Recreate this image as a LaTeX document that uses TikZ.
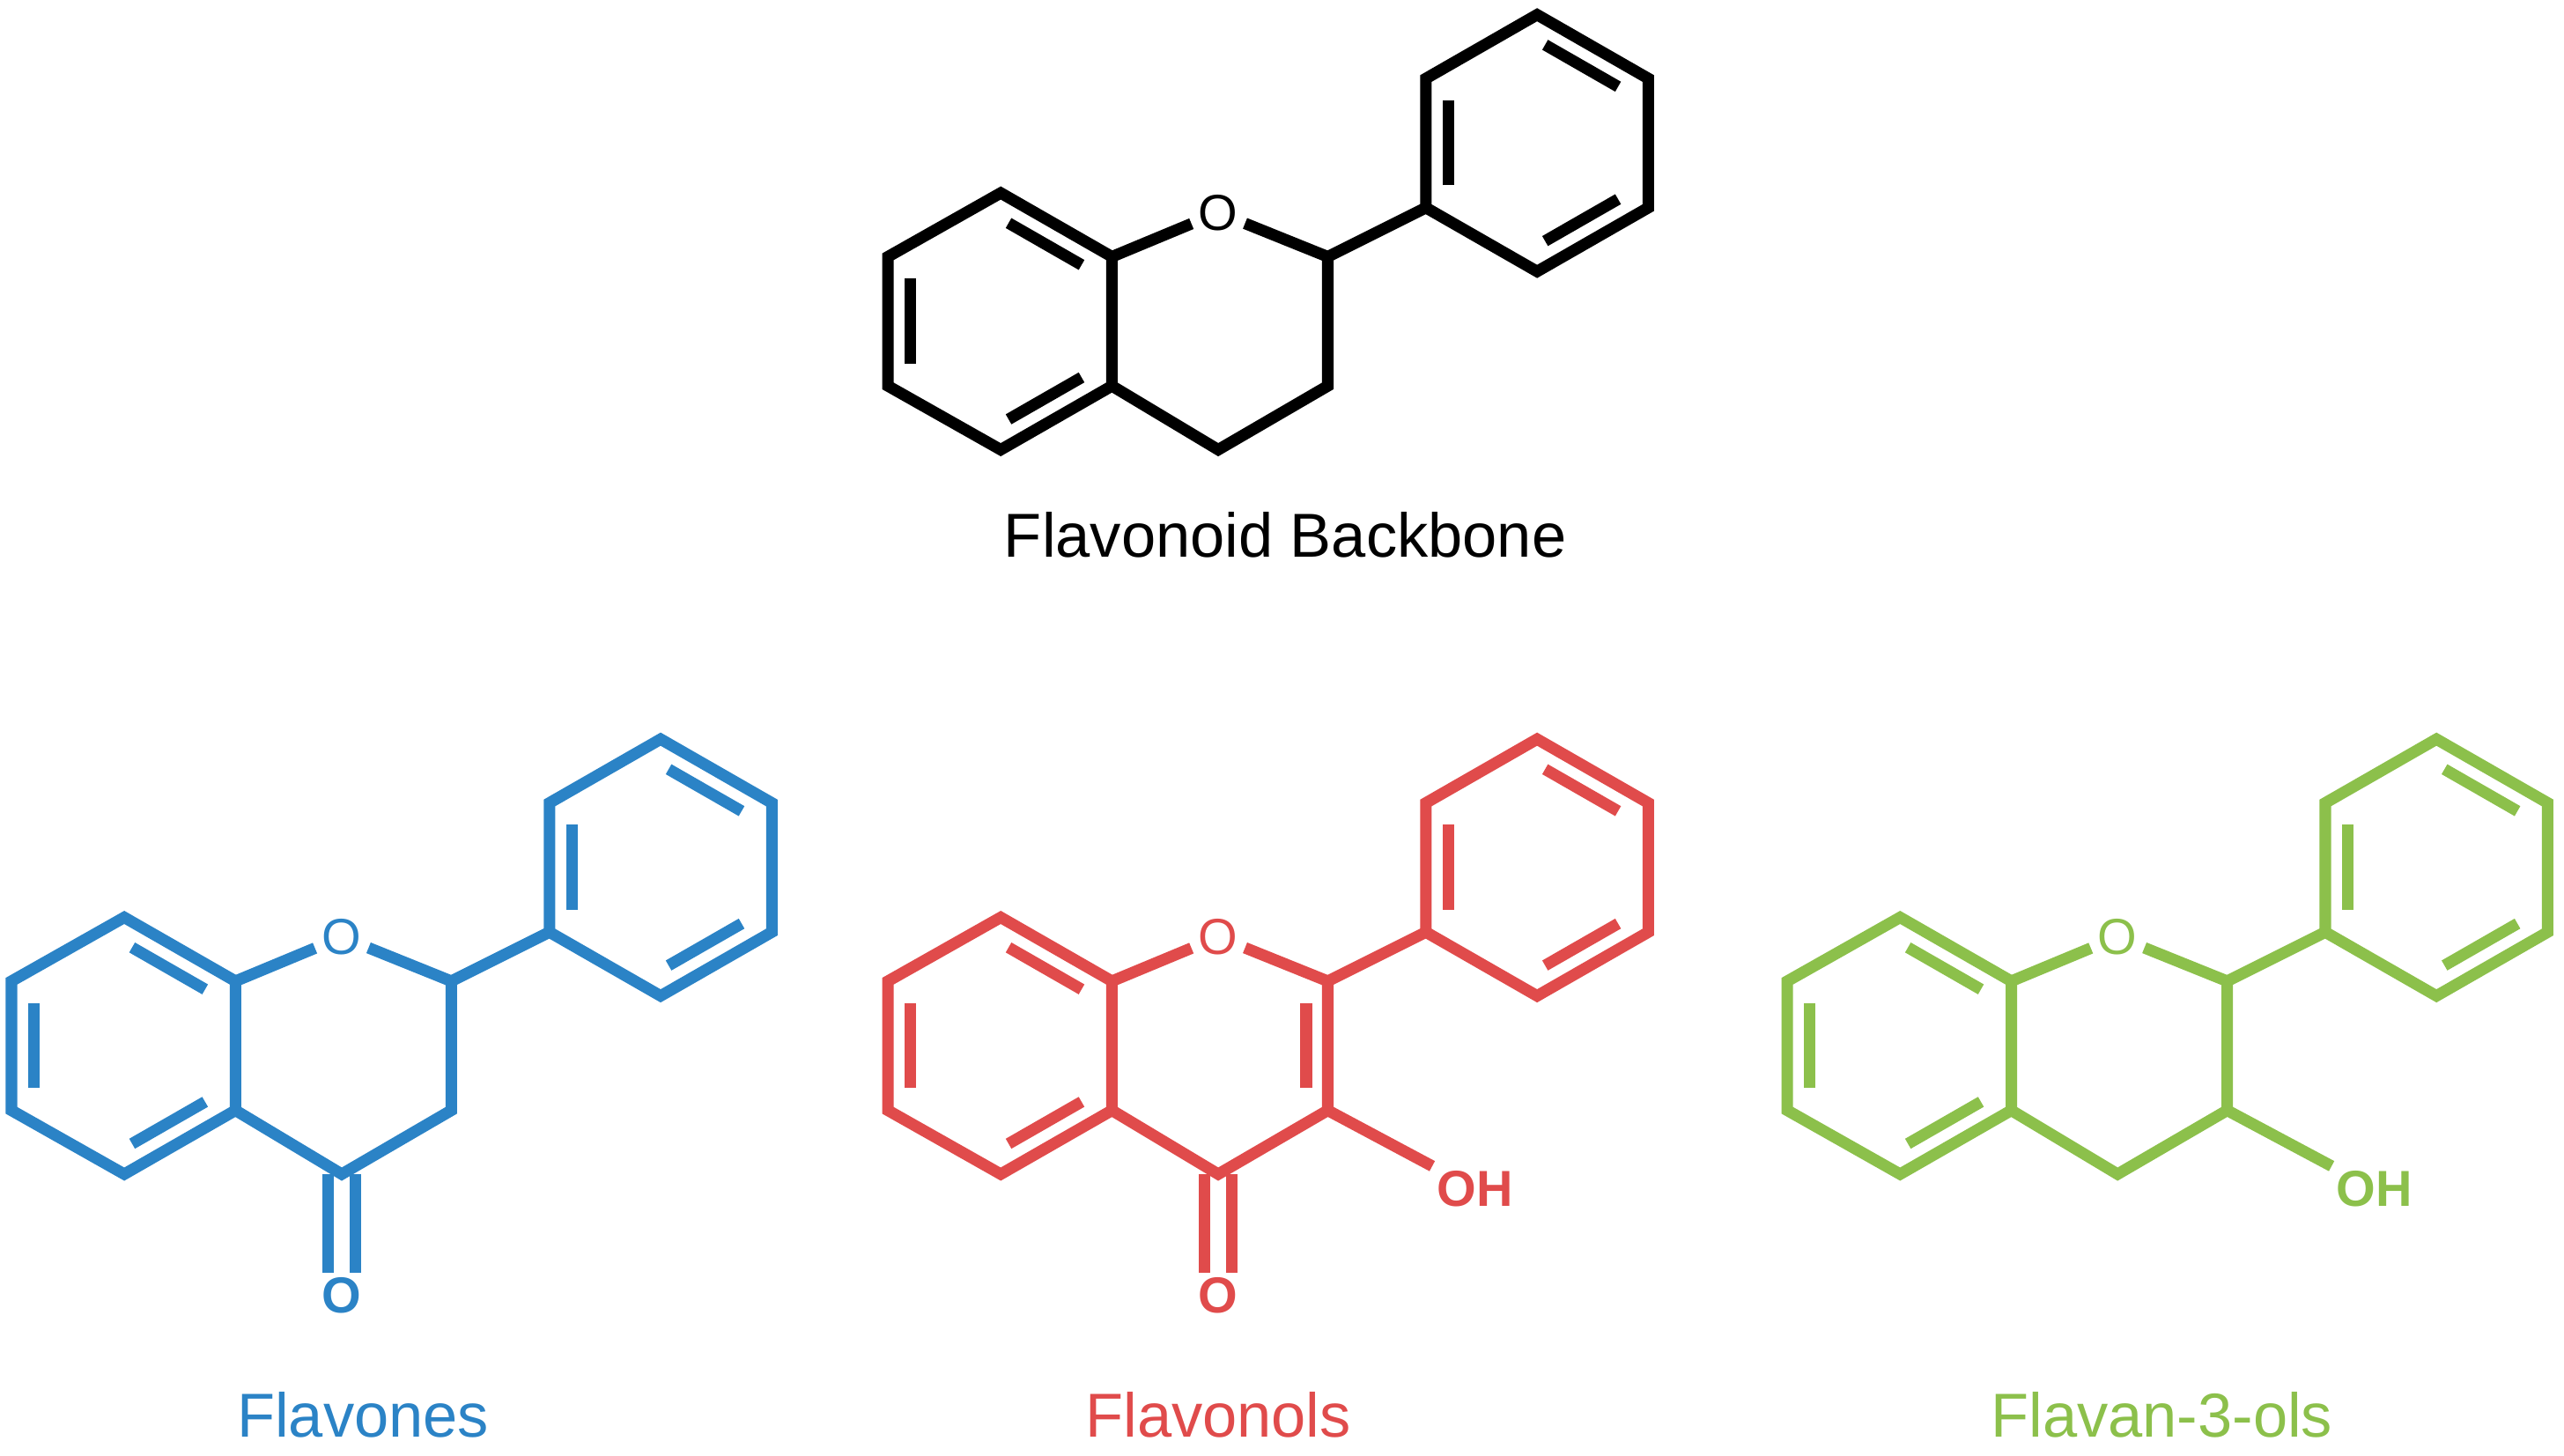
\documentclass[tikz,border=0pt]{standalone}
\usepackage{fontspec}
\setmainfont{Liberation Sans}
\usetikzlibrary{calc}
\definecolor{fblue}{HTML}{2B83C6}
\definecolor{fred}{HTML}{E04B4B}
\definecolor{fgreen}{HTML}{8CC04B}
\tikzset{bond/.style={line width=10pt,line join=miter},
 inner/.style={line width=10pt,shorten <=8pt,shorten >=8pt},
 atom/.style={inner sep=6pt,font=\fontsize{44}{44}\selectfont},
 boldatom/.style={inner sep=4pt,font=\fontsize{44}{44}\selectfont\bfseries},
 lab/.style={font=\fontsize{54}{60}\selectfont}}
\newcommand\flavring[1]{%
 \coordinate (#1a1) at (612,118); \coordinate (#1a2) at (680,157);
 \coordinate (#1a3) at (680,236); \coordinate (#1a4) at (612,275);
 \coordinate (#1a5) at (543,236); \coordinate (#1a6) at (543,157);
 \coordinate (#1ac) at (611.5,196);
 \node[atom] (#1O) at (745,130) {O};
 \coordinate (#1c2) at (812,157); \coordinate (#1c3) at (812,236);
 \coordinate (#1c4) at (745,275); \coordinate (#1cc) at (746,196);
 \coordinate (#1p1) at (872,127); \coordinate (#1p2) at (872,48);
 \coordinate (#1p3) at (940,9); \coordinate (#1p4) at (1008,48);
 \coordinate (#1p5) at (1008,127); \coordinate (#1p6) at (940,166);
 \coordinate (#1pc) at (940,87);
 \draw[bond] (#1a1)--(#1a2)--(#1a3)--(#1a4)--(#1a5)--(#1a6)--cycle;
 \draw[bond] (#1p1)--(#1p2)--(#1p3)--(#1p4)--(#1p5)--(#1p6)--cycle;
 \draw[bond] (#1a2)--(#1O)--(#1c2)--(#1c3)--(#1c4)--(#1a3);
 \draw[bond] (#1c2)--(#1p1);
 \draw[inner] ($(#1a5)!0.2!(#1ac)$)--($(#1a6)!0.2!(#1ac)$);
 \draw[inner] ($(#1a1)!0.2!(#1ac)$)--($(#1a2)!0.2!(#1ac)$);
 \draw[inner] ($(#1a3)!0.2!(#1ac)$)--($(#1a4)!0.2!(#1ac)$);
 \draw[inner] ($(#1p1)!0.2!(#1pc)$)--($(#1p2)!0.2!(#1pc)$);
 \draw[inner] ($(#1p3)!0.2!(#1pc)$)--($(#1p4)!0.2!(#1pc)$);
 \draw[inner] ($(#1p5)!0.2!(#1pc)$)--($(#1p6)!0.2!(#1pc)$);
}
\newcommand\carbonyl[1]{%
 \node[boldatom] (#1O4) at (745,349) {O};
 \draw[bond] ([xshift=-12pt]#1c4)--([xshift=-12pt]#1O4.north);
 \draw[bond] ([xshift=12pt]#1c4)--([xshift=12pt]#1O4.north);
}
\begin{document}
\begin{tikzpicture}[x=0.05cm,y=-0.05cm]
\useasboundingbox (0,0) rectangle (1568,890);
\begin{scope}
 \flavring{k}
\end{scope}
\node[lab] (lk) at (786,327) {Flavonoid Backbone};
\begin{scope}[fblue,shift={(-536,443)}]
 \flavring{b}
 \carbonyl{b}
 \node[lab] (lb) at (758,422) {Flavones};
\end{scope}
\begin{scope}[fred,shift={(0,443)}]
 \flavring{r}
 \draw[inner] ($(rc2)!0.2!(rcc)$)--($(rc3)!0.2!(rcc)$);
 \carbonyl{r}
 \node[boldatom] (rOH) at (902,284) {OH};
 \draw[bond] (rc3)--(rOH.north west);
 \node[lab] (lr) at (745,422) {Flavonols};
\end{scope}
\begin{scope}[fgreen,shift={(550,443)}]
 \flavring{g}
 \node[boldatom] (gOH) at (902,284) {OH};
 \draw[bond] (gc3)--(gOH.north west);
 \node[lab] (lg) at (772,422) {Flavan-3-ols};
\end{scope}
\end{tikzpicture}
\end{document}
